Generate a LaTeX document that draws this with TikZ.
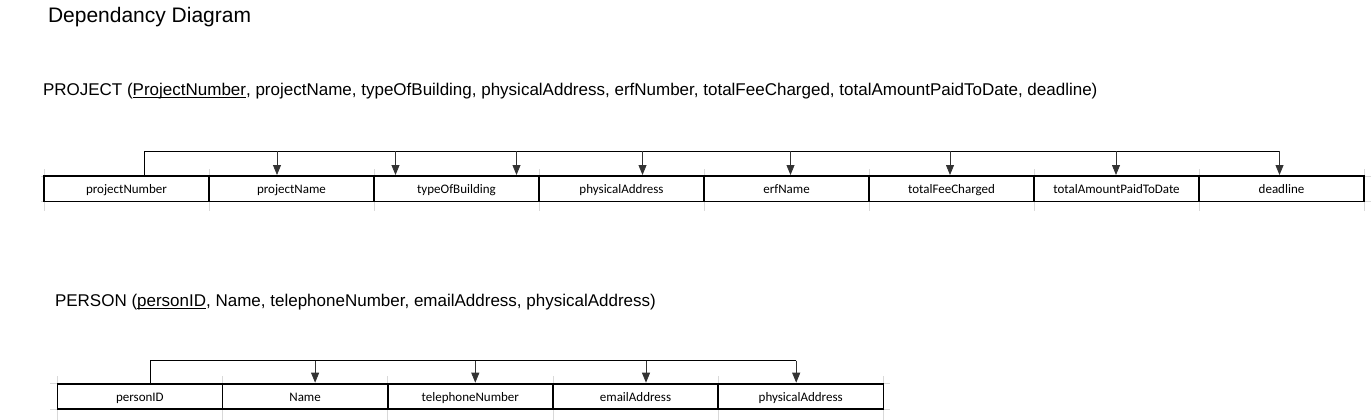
\documentclass[tikz,border=0pt]{standalone}
\usepackage{fontspec}
\setmainfont{Liberation Sans}
\newfontfamily\cellfont{Carlito}
\usetikzlibrary{positioning,arrows.meta}
\newcommand{\keyattr}[1]{\underline{\smash{#1}}}

\begin{document}
\begin{tikzpicture}[
        x=1pt, y=-1pt,
        every node/.style={inner sep=0pt, outer sep=0pt},
        heading/.style={anchor=base west, font=\fontsize{21}{24}\selectfont},
        relation/.style={anchor=base west, font=\fontsize{17}{20}\selectfont},
        cell/.style={draw, line width=1.6pt, minimum width=165pt, minimum height=25.5pt, text height=11pt, text depth=1pt, font=\cellfont\fontsize{13}{15}\selectfont},
        gridline/.style={draw=black!15, line width=0.6pt},
        link/.style={line width=0.8pt},
        to/.style={-{Triangle[width=8pt,length=10pt]}, line width=0.8pt, draw=black!80, fill=black!80, shorten >=1pt},
        ]
      \useasboundingbox (0,0) rectangle (1371,420);

      % faint sheet grid behind the tables
      \foreach \gx in {0,...,8}
        \draw[gridline] (44+165*\gx,169) -- (44+165*\gx,211);
      \draw[gridline] (41,176) -- (1371,176);
      \draw[gridline] (41,201.5) -- (1371,201.5);
      \foreach \gx in {0,...,5}
        \draw[gridline] (57.3+165.2*\gx,376) -- (57.3+165.2*\gx,420);
      \draw[gridline] (50,383.7) -- (890,383.7);
      \draw[gridline] (50,409) -- (890,409);

      \node [heading] (title) at (48,23) {Dependancy Diagram};
      \node [relation] (project) at (43,95.5) {PROJECT (\keyattr{ProjectNumber}, projectName, typeOfBuilding, physicalAddress, erfNumber, totalFeeCharged, totalAmountPaidToDate, deadline)};
      \node [relation] (person) at (55,306.5) {PERSON (\keyattr{personID}, Name, telephoneNumber, emailAddress, physicalAddress)};

      % PROJECT table
      \node [cell, anchor=north west] (pnum) at (44,176) {projectNumber};
      \node [cell, right=0pt of pnum] (pname) {projectName};
      \node [cell, right=0pt of pname] (ptype) {typeOfBuilding};
      \node [cell, right=0pt of ptype] (pphys) {physicalAddress};
      \node [cell, right=0pt of pphys] (perf) {erfName};
      \node [cell, right=0pt of perf] (pfee) {totalFeeCharged};
      \node [cell, right=0pt of pfee] (ppaid) {totalAmountPaidToDate};
      \node [cell, right=0pt of ppaid] (pdead) {deadline};

      \coordinate (pbus) at (0,151);
      \coordinate (pkey) at ([xshift=18pt]pnum.north);
      \coordinate (p1) at ([xshift=-14.5pt]pname.north);
      \coordinate (p2) at ([xshift=-61pt]ptype.north);
      \coordinate (p3) at ([xshift=60pt]ptype.north);
      \coordinate (p4) at ([xshift=21pt]pphys.north);
      \coordinate (p5) at ([xshift=4pt]perf.north);
      \coordinate (p6) at ([xshift=-1.5pt]pfee.north);
      \coordinate (p7) at ([xshift=-0.5pt]ppaid.north);
      \coordinate (p8) at ([xshift=-2pt]pdead.north);

      \draw[link] (pkey) |- (p8 |- pbus);
      \foreach \a in {p1,p2,p3,p4,p5,p6,p7,p8}
        \draw[to] (\a |- pbus) -- (\a);

      % PERSON table
      \node [cell, anchor=north west, minimum width=165.2pt, minimum height=25.3pt] (sid) at (57.3,383.7) {personID};
      \node [cell, right=0pt of sid, minimum width=165.2pt, minimum height=25.3pt] (sname) {Name};
      \node [cell, right=0pt of sname, minimum width=165.2pt, minimum height=25.3pt] (stel) {telephoneNumber};
      \node [cell, right=0pt of stel, minimum width=165.2pt, minimum height=25.3pt] (smail) {emailAddress};
      \node [cell, right=0pt of smail, minimum width=165.2pt, minimum height=25.3pt] (sphys) {physicalAddress};

      \coordinate (sbus) at (0,360.7);
      \coordinate (skey) at ([xshift=10pt]sid.north);
      \coordinate (s1) at ([xshift=10pt]sname.north);
      \coordinate (s2) at ([xshift=5pt]stel.north);
      \coordinate (s3) at ([xshift=10.5pt]smail.north);
      \coordinate (s4) at ([xshift=-4.5pt]sphys.north);

      \draw[link] (skey) |- (s4 |- sbus);
      \foreach \a in {s1,s2,s3,s4}
        \draw[to] (\a |- sbus) -- (\a);
    \end{tikzpicture}
\end{document}
